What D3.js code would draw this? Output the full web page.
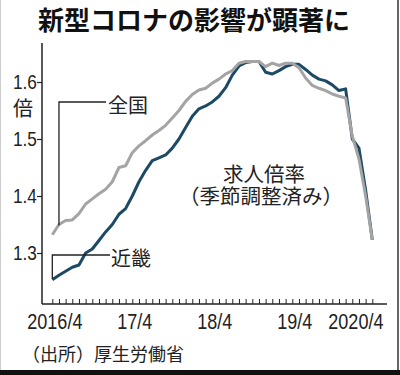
<!DOCTYPE html>
<html>
<head>
<meta charset="utf-8">
<script src="https://cdn.jsdelivr.net/npm/d3@7"></script>
<style>
  body { margin: 0; background: #fff; }
  svg { display: block; }
</style>
</head>
<body>
<div id="chart"></div>
<script>
// monthly, 2016/4 .. 2020/4 (seasonally adjusted)
const zenkoku = [1.332, 1.350, 1.357, 1.358, 1.369, 1.386, 1.395, 1.404, 1.412, 1.425,
  1.450, 1.453, 1.476, 1.488, 1.497, 1.507, 1.515, 1.524, 1.537, 1.550,
  1.566, 1.578, 1.586, 1.589, 1.598, 1.605, 1.614, 1.620, 1.633, 1.636,
  1.636, 1.636, 1.627, 1.633, 1.629, 1.633, 1.633, 1.625, 1.607, 1.594,
  1.589, 1.585, 1.579, 1.575, 1.572, 1.505, 1.465, 1.400, 1.323];
const kinki = [1.253, 1.261, 1.268, 1.275, 1.279, 1.300, 1.307, 1.322, 1.337, 1.350,
  1.368, 1.378, 1.400, 1.425, 1.445, 1.462, 1.467, 1.472, 1.484, 1.500,
  1.520, 1.540, 1.553, 1.558, 1.565, 1.575, 1.590, 1.612, 1.628, 1.634,
  1.636, 1.636, 1.617, 1.614, 1.620, 1.627, 1.631, 1.631, 1.622, 1.612,
  1.605, 1.602, 1.595, 1.585, 1.588, 1.500, 1.484, 1.410, 1.323];
const tickMonths = [0, 12, 24, 36, 48];
const tickLabels = ['2016/4', '17/4', '18/4', '19/4', '2020/4'];
const yTicks = [1.3, 1.4, 1.5, 1.6];

const w = 400;
const h = 375;
const cjk = '"Noto Sans CJK JP", sans-serif';
const latin = '"Liberation Sans", Arial, sans-serif';
const gray = '#a4a4a4';
const navy = '#1c4a64';

const svg = d3.select('#chart')
    .append('svg')
    .attr('width', w)
    .attr('height', h);

const x = d3.scaleLinear().domain([0, 48]).range([52.3, 372.3]);
const y = d3.scaleLinear().domain([1.3, 1.6]).range([253, 82]);

// frame
svg.append('line').attr('x1', 0.5).attr('x2', 0.5).attr('y1', 0).attr('y2', h)
    .attr('stroke', '#ccc');
svg.append('line').attr('x1', 398).attr('x2', 398).attr('y1', 0).attr('y2', h)
    .attr('stroke', '#333').attr('stroke-width', 1.5);
svg.append('rect').attr('x', 0).attr('y', 370).attr('width', w).attr('height', 5)
    .attr('fill', '#111');

svg.append('text')
    .attr('x', 38).attr('y', 30)
    .style('font-family', cjk).style('font-weight', 'bold').style('font-size', '26px')
    .attr('fill', '#111')
    .text('新型コロナの影響が顕著に');

// axes
const xAxis = d3.axisBottom(x)
    .tickValues(d3.range(49))
    .tickSize(-5)
    .tickPadding(9)
    .tickFormat(i => {
        const k = tickMonths.indexOf(i);
        return k < 0 ? '' : tickLabels[k];
    });
const gx = svg.append('g')
    .attr('transform', 'translate(0,304)')
    .call(xAxis);
gx.select('.domain').remove();
gx.selectAll('line').attr('stroke', '#222').attr('stroke-width', 1);
gx.selectAll('text')
    .style('font-family', latin).style('font-size', '22px').attr('fill', '#222')
    .attr('x', 2.5)
    .attr('transform', 'scale(0.82,1)');
gx.selectAll('text').filter(d => d === 48)
    .attr('text-anchor', 'end').attr('x', 13);

const yAxis = d3.axisLeft(y)
    .tickValues(yTicks)
    .tickSize(5)
    .tickPadding(3)
    .tickFormat(d3.format('.1f'));
const gy = svg.append('g')
    .attr('transform', 'translate(42,0)')
    .call(yAxis);
gy.select('.domain').remove();
gy.selectAll('line').attr('stroke', '#222').attr('stroke-width', 1.2);
gy.selectAll('text')
    .style('font-family', latin).style('font-size', '20px').attr('fill', '#222')
    .attr('x', -6)
    .attr('transform', 'scale(0.86,1)');

svg.append('line').attr('x1', 42).attr('x2', 42).attr('y1', 43).attr('y2', 304)
    .attr('stroke', '#222').attr('stroke-width', 1.5);
svg.append('line').attr('x1', 42).attr('x2', 387).attr('y1', 304).attr('y2', 304)
    .attr('stroke', '#222').attr('stroke-width', 1.5);

svg.append('text')
    .attr('x', 23).attr('y', 107).attr('text-anchor', 'middle')
    .attr('dominant-baseline', 'central')
    .style('font-family', cjk).style('font-size', '20px').attr('fill', '#222')
    .text('倍');

// lines
const line = d3.line()
    .x((d, i) => x(i))
    .y(d => y(d));

svg.append('path')
    .datum(kinki)
    .attr('d', line)
    .attr('fill', 'none')
    .attr('stroke', navy)
    .attr('stroke-width', 3)
    .attr('stroke-linejoin', 'round');

svg.append('path')
    .datum(zenkoku)
    .attr('d', line)
    .attr('fill', 'none')
    .attr('stroke', gray)
    .attr('stroke-width', 3)
    .attr('stroke-linejoin', 'round');

// leaders
svg.append('path')
    .attr('d', `M106,102H${x(1)}V${y(zenkoku[1]) + 1}`)
    .attr('fill', 'none').attr('stroke', '#222').attr('stroke-width', 1.3);
svg.append('path')
    .attr('d', `M110,255H${x(0)}V${y(kinki[0]) - 1}`)
    .attr('fill', 'none').attr('stroke', '#222').attr('stroke-width', 1.3);

const label = (tx, ty, str, size) => svg.append('text')
    .attr('x', tx).attr('y', ty)
    .attr('dominant-baseline', 'central')
    .style('font-family', cjk).style('font-size', size + 'px').attr('fill', '#222')
    .text(str);

label(108, 104, '全国', 20);
label(111, 257, '近畿', 20);
label(264, 173, '求人倍率', 20.5).attr('text-anchor', 'middle');
label(261, 195, '（季節調整済み）', 20.5).attr('text-anchor', 'middle');
label(22, 353, '（出所）厚生労働省', 18);
</script>
</body>
</html>
